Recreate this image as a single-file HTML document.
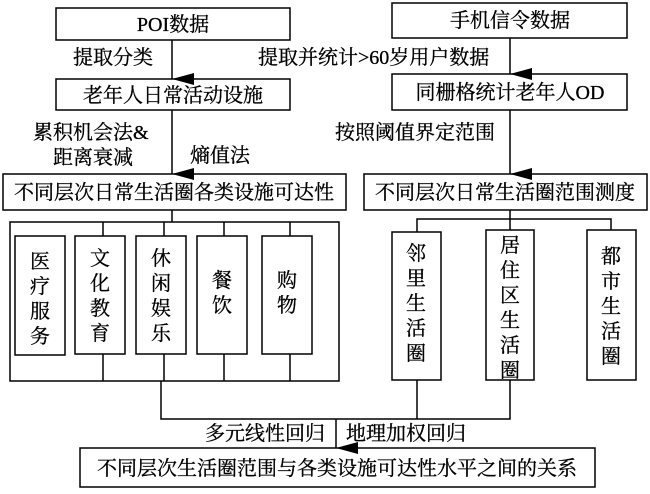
<!DOCTYPE html>
<html><head><meta charset="utf-8"><style>
html,body{margin:0;padding:0;background:#fff;}
svg text{font-family:"Liberation Serif","Noto Serif CJK SC",serif;font-size:20px;fill:#000;stroke:#000;stroke-width:0.3;}
</style></head><body>
<svg width="650" height="489" viewBox="0 0 650 489" xmlns="http://www.w3.org/2000/svg">
<defs><marker id="a" markerWidth="12" markerHeight="22" refX="6" refY="22" orient="auto" markerUnits="userSpaceOnUse"><path d="M0,0 L12,0 L6,22 Z" fill="#000"/></marker></defs>
<g fill="none" stroke="#000" stroke-width="1.5">
<rect x="56" y="8" width="234" height="32"/>
<rect x="392" y="3" width="235" height="35"/>
<rect x="56" y="79" width="234" height="31"/>
<rect x="392" y="74" width="235" height="36"/>
<rect x="3" y="174" width="343" height="36"/>
<rect x="364" y="174" width="283" height="36"/>
<rect x="10" y="222" width="329" height="159"/>
<rect x="15" y="236" width="50" height="119"/>
<rect x="75" y="236" width="50" height="118"/>
<rect x="136" y="236" width="50" height="118"/>
<rect x="197" y="236" width="50" height="118"/>
<rect x="262" y="236" width="50" height="118"/>
<rect x="392" y="232" width="49" height="148"/>
<rect x="486" y="230" width="48" height="150"/>
<rect x="587" y="230" width="49" height="150"/>
<rect x="80" y="448" width="515" height="39"/>
<line x1="172" y1="40" x2="172" y2="79" marker-end="url(#a)"/>
<line x1="510" y1="38" x2="510" y2="74" marker-end="url(#a)"/>
<line x1="172" y1="110" x2="172" y2="174" marker-end="url(#a)"/>
<line x1="510" y1="110" x2="510" y2="174" marker-end="url(#a)"/>
<line x1="172" y1="210" x2="172" y2="222"/>
<path d="M103 222V236M164 222V236M224 222V236M290 222V236M103 354V381M164 354V381M224 354V381M290 354V381"/>
<line x1="510" y1="210" x2="510" y2="230"/>
<path d="M417 232V219H611V230"/>
<path d="M161 381V419H510V380M417 380V419"/>
<line x1="336" y1="419" x2="336" y2="448" marker-end="url(#a)"/>
</g>
<g text-anchor="middle">
<text x="173" y="31">POI数据</text>
<text x="510" y="27">手机信令数据</text>
<text x="173" y="102">老年人日常活动设施</text>
<text x="510" y="99">同栅格统计老年人OD</text>
<text x="174" y="199">不同层次日常生活圈各类设施可达性</text>
<text x="505" y="199">不同层次日常生活圈范围测度</text>
<text x="337" y="475">不同层次生活圈范围与各类设施可达性水平之间的关系</text>
</g>
<g text-anchor="start">
<text x="73" y="64">提取分类</text>
<text x="258" y="64">提取并统计&gt;60岁用户数据</text>
<text x="33" y="139">累积机会法&amp;</text>
<text x="53" y="164">距离衰减</text>
<text x="190" y="162">熵值法</text>
<text x="335" y="139">按照阈值界定范围</text>
<text x="205" y="440">多元线性回归</text>
<text x="346" y="440">地理加权回归</text>
</g>
<g text-anchor="middle">
<text><tspan x="40" y="268">医</tspan><tspan x="40" y="293">疗</tspan><tspan x="40" y="318">服</tspan><tspan x="40" y="343">务</tspan></text>
<text><tspan x="100" y="265">文</tspan><tspan x="100" y="290">化</tspan><tspan x="100" y="315">教</tspan><tspan x="100" y="340">育</tspan></text>
<text><tspan x="161" y="265">休</tspan><tspan x="161" y="290">闲</tspan><tspan x="161" y="315">娱</tspan><tspan x="161" y="340">乐</tspan></text>
<text><tspan x="222" y="287">餐</tspan><tspan x="222" y="312">饮</tspan></text>
<text><tspan x="287" y="287">购</tspan><tspan x="287" y="312">物</tspan></text>
<text><tspan x="416" y="260">邻</tspan><tspan x="416" y="285">里</tspan><tspan x="416" y="310">生</tspan><tspan x="416" y="335">活</tspan><tspan x="416" y="360">圈</tspan></text>
<text><tspan x="510" y="252">居</tspan><tspan x="510" y="277">住</tspan><tspan x="510" y="302">区</tspan><tspan x="510" y="327">生</tspan><tspan x="510" y="352">活</tspan><tspan x="510" y="377">圈</tspan></text>
<text><tspan x="611" y="263">都</tspan><tspan x="611" y="288">市</tspan><tspan x="611" y="313">生</tspan><tspan x="611" y="338">活</tspan><tspan x="611" y="363">圈</tspan></text>
</g>
</svg>
</body></html>
